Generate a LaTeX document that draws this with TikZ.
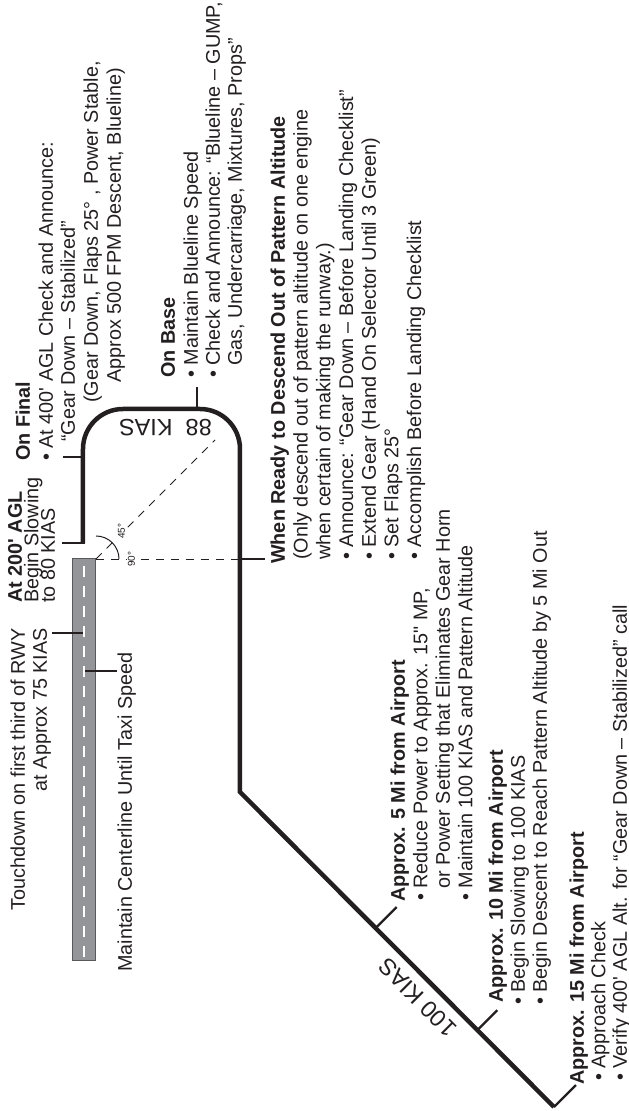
\documentclass[tikz,border=0pt]{standalone}
\usepackage{fontspec}
\setmainfont{Liberation Sans}[Ligatures=TeXOff]
\usetikzlibrary{calc}
\definecolor{ink}{HTML}{231F20}
\definecolor{rwyfill}{HTML}{939598}
\definecolor{rwyedge}{HTML}{58595B}
\begin{document}
\begin{tikzpicture}[x=1pt,y=1pt,rotate=90,transform shape,
  txt/.style={font=\fontsize{19.8}{22.7}\selectfont, text=ink, inner sep=0pt, anchor=base west},
  bld/.style={txt, font=\fontsize{19.8}{22.7}\selectfont\bfseries},
  spd/.style={font=\fontsize{23.5}{27}\selectfont, text=ink, inner sep=0pt},
  ang/.style={font=\fontsize{10}{12}\selectfont, text=ink, inner sep=0.8pt, fill=white, anchor=base west},
  flight/.style={draw=ink, line width=4.5pt, line cap=butt, line join=miter},
  lead/.style={draw=ink, line width=2.4pt},
  guide/.style={draw=ink, line width=0.9pt, dash pattern=on 8pt off 7pt},
  runway/.style={fill=rwyfill, draw=rwyedge, line width=1pt},
  cline/.style={draw=white, line width=1.4pt, dash pattern=on 11pt off 9pt}]
\useasboundingbox (0,0) rectangle (1111,629);

% runway
\path[runway] (150,533) rectangle (552,556);
\coordinate (rc) at (552,533);
\path[cline] (154,545) -- (548,545);

% guide lines and angle
\coordinate (dwx) at (552,389);
\coordinate (diagend) at (671,414);
\path[guide] (rc) -- (dwx);
\path[guide] (rc) -- (diagend);
\draw[ink, line width=1pt] (552,510) arc[start angle=-90,end angle=0,radius=23];
\node[ang] (a90) at (543,494) {90°};
\node[ang] (a45) at (571,504) {45°};

% flight path
\coordinate (fin0) at (568,546);
\coordinate (ds) at (319,389);
\coordinate (de) at (4,75);
\path[flight] (fin0) -- (662,546) arc[start angle=90,end angle=0,radius=40]
  -- (702,429) arc[start angle=0,end angle=-90,radius=40] -- (ds) -- (de);

% leader stubs
\coordinate (tdA) at (478,546); \coordinate (tdB) at (478,577);
\path[lead] (tdA) -- (tdB);
\coordinate (clA) at (440,544); \coordinate (clB) at (440,512);
\path[lead] (clA) -- (clB);
\coordinate (agA) at (568,543.8); \coordinate (agB) at (568,567);
\path[lead] (agA) -- (agB);
\coordinate (ofA) at (654,546); \coordinate (ofB) at (654,566);
\path[lead] (ofA) -- (ofB);
\coordinate (obA) at (702,432); \coordinate (obB) at (724,432);
\path[lead] (obA) -- (obB);
\coordinate (wrB) at (552,364);
\path[lead] (dwx) -- (wrB);
\coordinate (m5) at ($(ds)!0.432!(de)$); \coordinate (m5e) at ($(m5)+(21,-21)$);
\path[lead] (m5) -- (m5e);
\coordinate (m10) at ($(ds)!0.756!(de)$); \coordinate (m10e) at ($(m10)+(20,-20)$);
\path[lead] (m10) -- (m10e);
\coordinate (m15e) at ($(de)+(22,-22)$);
\path[lead] (de) -- (m15e);

% speed labels
\path (de) -- (ds) node[spd, pos=0.391, sloped, above=11pt] (k100) {100 KIAS};
\node[spd, rotate=90, anchor=base west] (k88) at (691,417) {88\hspace{13pt}KIAS};

% touchdown
\node[txt, anchor=base east] (a1) at (483,604) {Touchdown on first third of RWY};
\node[txt, anchor=base east] (a2) at (483,582) {at Approx 75 KIAS};
% centerline
\node[txt] (b1) at (139,497) {Maintain Centerline Until Taxi Speed};
% 200 AGL
\node[bld] (c1) at (508,607) {At 200' AGL};
\node[txt] (c2) at (508,590.5) {Begin Slowing};
\node[txt] (c3) at (508,574) {to 80 KIAS};
% on final
\node[bld] (d1) at (650,599) {On Final};
\node[txt] (d2) at (650,576) {• At 400' AGL Check and Announce:};
\node[txt] (d3) at (669,554) {“Gear Down – Stabilized”};
\node[txt] (d4) at (708,531) {(Gear Down, Flaps 25° , Power Stable,};
\node[txt] (d5) at (728,508) {Approx 500 FPM Descent, Blueline)};
% on base
\node[bld] (e1) at (733,454) {On Base};
\node[txt] (e2) at (733,431) {• Maintain Blueline Speed};
\node[txt] (e3) at (733,409) {• Check and Announce: “Blueline – GUMP,};
\node[txt] (e4) at (745,387) {Gas, Undercarriage, Mixtures, Props”};
% when ready
\node[bld] (f1) at (547,344) {When Ready to Descend Out of Pattern Altitude};
\node[txt] (f2) at (551,321.3) {(Only descend out of pattern altitude on one engine};
\node[txt] (f3) at (551,298.6) {when certain of making the runway.)};
\node[txt] (f4) at (551,275.9) {• Announce: “Gear Down – Before Landing Checklist”};
\node[txt] (f5) at (551,253.2) {• Extend Gear (Hand On Selector Until 3 Green)};
\node[txt] (f6) at (551,230.5) {• Set Flaps 25°};
\node[txt] (f7) at (551,207.8) {• Accomplish Before Landing Checklist};
% 5 mi
\node[bld] (g1) at (209,224) {Approx. 5 Mi from Airport};
\node[txt] (g2) at (210,201.5) {• Reduce Power to Approx. 15" MP,};
\node[txt] (g3) at (222,179) {or Power Setting that Eliminates Gear Horn};
\node[txt] (g4) at (210,156.5) {• Maintain 100 KIAS and Pattern Altitude};
% 10 mi
\node[bld] (h1) at (108,126) {Approx. 10 Mi from Airport};
\node[txt] (h2) at (106,104) {• Begin Slowing to 100 KIAS};
\node[txt] (h3) at (106,82) {• Begin Descent to Reach Pattern Altitude by 5 Mi Out};
% 15 mi
\node[bld] (i1) at (26,45) {Approx. 15 Mi from Airport};
\node[txt] (i2) at (30,23.5) {• Approach Check};
\node[txt] (i3) at (30,2) {• Verify 400' AGL Alt. for “Gear Down – Stabilized” call};
\end{tikzpicture}
\end{document}
